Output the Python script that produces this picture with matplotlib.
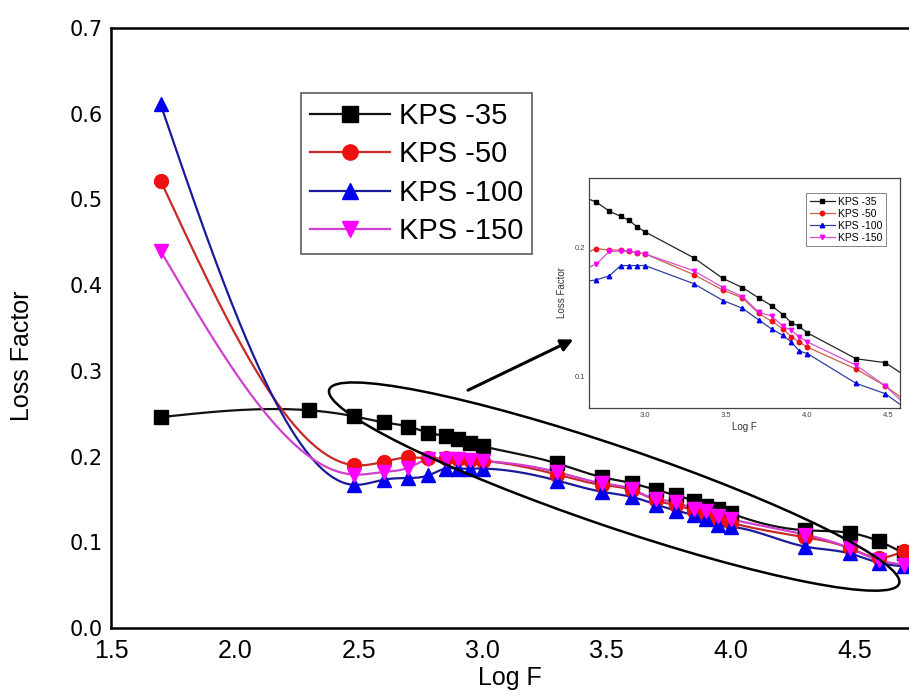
import matplotlib
matplotlib.use('Agg')
import matplotlib.pyplot as plt
import numpy as np
from matplotlib.patches import Ellipse
from matplotlib.transforms import IdentityTransform

plt.rcParams['font.family'] = ['Liberation Sans', 'DejaVu Sans']

# log of frequency
logf_35 = [1.7, 2.3, 2.48, 2.6, 2.7, 2.78, 2.85, 2.9, 2.95, 3.0, 3.3, 3.48, 3.6,
           3.7, 3.78, 3.85, 3.9, 3.95, 4.0, 4.3, 4.48, 4.6, 4.7]
logf = [1.7, 2.48, 2.6, 2.7, 2.78, 2.85, 2.9, 2.95, 3.0, 3.3, 3.48, 3.6,
        3.7, 3.78, 3.85, 3.9, 3.95, 4.0, 4.3, 4.48, 4.6, 4.7]

kps35 = [0.246, 0.254, 0.247, 0.240, 0.235, 0.228, 0.224, 0.221, 0.216, 0.212, 0.192, 0.176,
         0.169, 0.161, 0.155, 0.148, 0.142, 0.139, 0.134, 0.114, 0.111, 0.101, 0.087]
kps50 = [0.522, 0.190, 0.194, 0.199, 0.198, 0.198, 0.197, 0.196, 0.195, 0.179, 0.167, 0.161,
         0.149, 0.143, 0.137, 0.131, 0.127, 0.123, 0.106, 0.093, 0.082, 0.090]
kps100 = [0.611, 0.167, 0.173, 0.175, 0.178, 0.186, 0.186, 0.186, 0.186, 0.172, 0.159, 0.153,
          0.144, 0.137, 0.132, 0.127, 0.120, 0.118, 0.095, 0.087, 0.076, 0.072]
kps150 = [0.440, 0.179, 0.182, 0.187, 0.197, 0.197, 0.197, 0.196, 0.195, 0.182, 0.169, 0.162,
          0.150, 0.147, 0.139, 0.136, 0.131, 0.127, 0.109, 0.093, 0.079, 0.074]

labels = ['KPS -35', 'KPS -50', 'KPS -100', 'KPS -150']


def smooth(x, y, n=600):
    # natural cubic spline, only used to draw the connecting curve
    x = np.asarray(x, float)
    y = np.asarray(y, float)
    h = np.diff(x)
    m = len(x)
    A = np.zeros((m - 2, m - 2))
    r = np.zeros(m - 2)
    for i in range(m - 2):
        A[i, i] = 2 * (h[i] + h[i + 1])
        if i > 0:
            A[i, i - 1] = h[i]
        if i < m - 3:
            A[i, i + 1] = h[i + 1]
        r[i] = 6 * ((y[i + 2] - y[i + 1]) / h[i + 1] - (y[i + 1] - y[i]) / h[i])
    M = np.zeros(m)
    M[1:-1] = np.linalg.solve(A, r)
    xs = np.linspace(x[0], x[-1], n)
    k = np.clip(np.searchsorted(x, xs) - 1, 0, m - 2)
    t0 = x[k + 1] - xs
    t1 = xs - x[k]
    hk = h[k]
    ys = (M[k] * t0 ** 3 / (6 * hk) + M[k + 1] * t1 ** 3 / (6 * hk)
          + (y[k] / hk - M[k] * hk / 6) * t0 + (y[k + 1] / hk - M[k + 1] * hk / 6) * t1)
    return xs, ys


series = [
    (logf_35, kps35, 's', '#000000', '#111111', '#222222'),
    (logf, kps50, 'o', '#ee1111', '#c82828', '#c8604a'),
    (logf, kps100, '^', '#0000ee', '#1a1a9a', '#3040a0'),
    (logf, kps150, 'v', '#ff00ff', '#d040d0', '#d050d0'),
]

fig = plt.figure(figsize=(9.09, 6.95), dpi=100)
ax = fig.add_axes([111 / 909, 67 / 695, 818 / 909, 600 / 695])

for (x, y, mk, mc, lc, ic), lab in zip(series, labels):
    xs, ys = smooth(x, y)
    ax.plot(xs, ys, color=lc, lw=1.6, zorder=2)
    ax.plot(x, y, ls='none', marker=mk, ms=10, color=mc, zorder=3)
    ax.plot([], [], color=lc, lw=1.6, marker=mk, ms=11, mfc=mc, mec=mc, label=lab)

ax.set_xlim(1.5, 4.8)
ax.set_ylim(0.0, 0.7)
ax.set_xticks([1.5, 2.0, 2.5, 3.0, 3.5, 4.0, 4.5])
ax.set_yticks(np.arange(0, 0.71, 0.1))
ax.set_xticklabels(['%.1f' % v for v in ax.get_xticks()], fontsize=18)
ax.set_yticklabels(['%.1f' % v for v in ax.get_yticks()], fontsize=15, family='DejaVu Sans')
ax.tick_params(length=0)
ax.tick_params(axis='x', pad=8)
ax.tick_params(axis='y', pad=6)
for s in ax.spines.values():
    s.set_linewidth(1.8)

ax.set_xlabel('Log F', fontsize=18)
ax.set_ylabel('Loss Factor', fontsize=18)
ax.xaxis.set_label_coords(0.488, -0.063)
ax.yaxis.set_label_coords(-0.094, 0.453)

leg = ax.legend(loc='upper left', bbox_to_anchor=(301 / 909, 1 - 93 / 695),
                bbox_transform=fig.transFigure, fontsize=21, frameon=True, fancybox=False,
                borderaxespad=0, handlelength=2.75, handletextpad=0.3, labelspacing=0.36,
                borderpad=0.3)
leg.get_frame().set_edgecolor('#333333')
leg.get_frame().set_linewidth(1.2)

# ellipse around the zoomed region and arrow to the inset
cx, cy = ax.transData.transform((3.53, 0.165))
ell = Ellipse((cx, cy), 602, 80, angle=-18.8, fill=False, ec='black', lw=1.8,
              transform=IdentityTransform(), zorder=4)
fig.add_artist(ell)
ax.annotate('', xy=(3.375, 0.338), xytext=(2.93, 0.276),
            arrowprops=dict(arrowstyle='-|>', lw=2.2, color='black', mutation_scale=18))

# inset
ins = fig.add_axes([589 / 909, 287 / 695, 311 / 909, 230 / 695])
for (x, y, mk, mc, lc, ic), lab in zip(series, labels):
    ins.plot(x, y, color=ic, lw=0.9, marker=mk, ms=3.2, mfc=mc, mec=mc, label=lab)
ins.set_xlim(2.655, 4.57)
ins.set_ylim(0.076, 0.2536)
ins.set_xticks([3.0, 3.5, 4.0, 4.5])
ins.set_yticks([0.1, 0.2])
ins.set_xticklabels(['3.0', '3.5', '4.0', '4.5'])
ins.set_yticklabels(['0.1', '0.2'])
ins.tick_params(length=0, labelsize=5.5, colors='#444444', pad=3)
for s in ins.spines.values():
    s.set_linewidth(0.9)
    s.set_edgecolor('#444444')
ins.set_xlabel('Log F', fontsize=7, labelpad=2, color='#333333')
ins.set_ylabel('Loss Factor', fontsize=7, labelpad=5, color='#333333')
il = ins.legend(loc='upper right', bbox_to_anchor=(0.955, 0.935), fontsize=7.5, fancybox=False,
                borderaxespad=0, handlelength=2.4, handletextpad=0.3, labelspacing=0.2,
                borderpad=0.35)
il.get_frame().set_edgecolor('#666666')
il.get_frame().set_linewidth(0.7)

fig.savefig('out.png', dpi=100)
